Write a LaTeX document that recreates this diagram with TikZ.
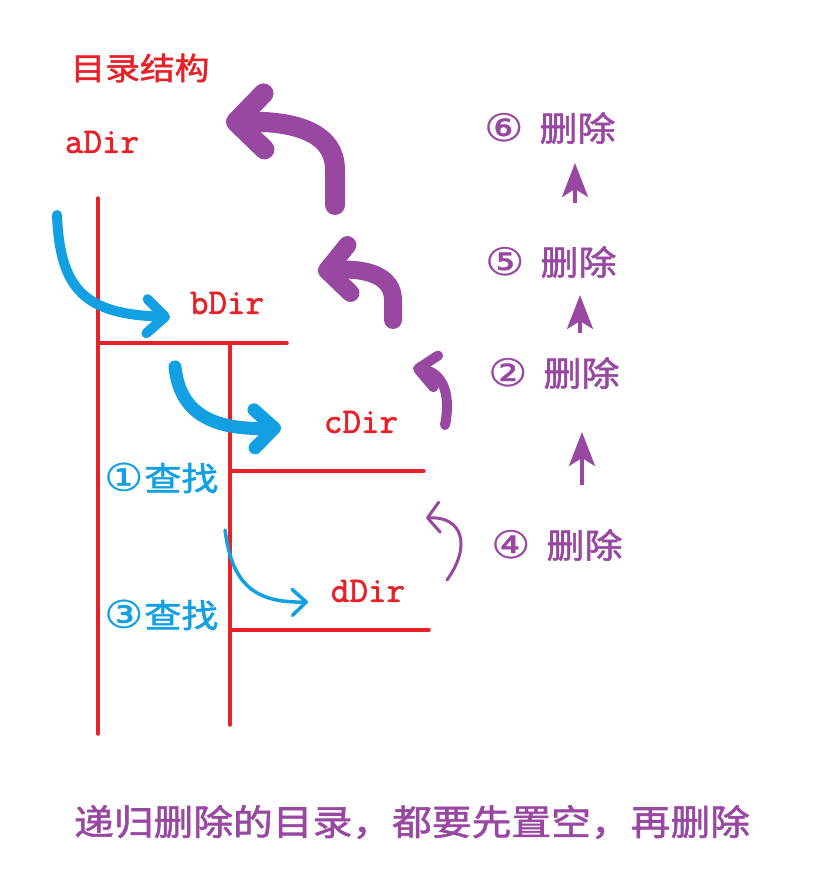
\documentclass[tikz,border=0pt]{standalone}
\usepackage{fontspec}
\usepackage{xcolor}
\usepackage{tikz}
\usetikzlibrary{arrows.meta, positioning, calc}
\newfontfamily\cjk{Noto Sans CJK SC}[FakeStretch=1.12, FakeBold=1.6]
\newfontfamily\circnum{DejaVu Sans}[FakeStretch=1.15, FakeBold=0.8]
\newfontfamily\dirfont{Latin Modern Mono}[FakeBold=1.8]
\newcommand{\numc}[1]{{\fontsize{38}{38}\selectfont\circnum #1}}
\definecolor{treered}{RGB}{232, 32, 40}
\definecolor{findblue}{RGB}{18, 160, 226}
\definecolor{delpurple}{RGB}{152, 72, 160}

\begin{document}
\begin{tikzpicture}[
    x=1pt, y=-1pt,
    dirlabel/.style={text=treered, font=\fontsize{36}{36}\selectfont\dirfont, inner sep=0pt},
    findlabel/.style={text=findblue, font=\fontsize{33}{33}\selectfont\cjk, inner sep=0pt, anchor=west},
    dellabel/.style={text=delpurple, font=\fontsize{34}{34}\selectfont\cjk, inner sep=0pt, anchor=west},
    tree/.style={draw=treered, line width=3.5pt, line cap=round},
    find/.style={draw=findblue, line cap=round, line width=#1},
    back/.style={draw=delpurple, line cap=round, line width=#1},
    upstep/.style={draw=delpurple, line width=4pt, -{Stealth[length=34pt, width=26pt, inset=8pt]}}
]
\useasboundingbox (0,0) rectangle (818,893);

% Directory tree
\node[text=treered, font=\fontsize{31}{31}\selectfont\cjk, inner sep=0pt] (title) at (140,68) {目录结构};
\node[dirlabel] (adir) at (102,142) {aDir};
\node[dirlabel] (bdir) at (227,303) {bDir};
\node[dirlabel] (cdir) at (361,422) {cDir};
\node[dirlabel] (ddir) at (368,591) {dDir};

\coordinate (aTop) at (98,198);
\coordinate (aBot) at (98,734);
\coordinate (bJoin) at (98,343);
\coordinate (bEnd) at (287,343);
\coordinate (bTop) at (230,343);
\coordinate (bBot) at (230,725);
\coordinate (cStart) at (232,471);
\coordinate (cEnd) at (424,471);
\coordinate (dStart) at (232,630);
\coordinate (dEnd) at (429,630);

\draw[tree] (aTop) -- (aBot);
\draw[tree] (bJoin) -- (bEnd);
\draw[tree] (bTop) -- (bBot);
\draw[tree] (cStart) -- (cEnd);
\draw[tree] (dStart) -- (dEnd);

% Searching down
\node[findlabel] (find1) at (104,478) {\numc{①}\hspace{1pt}查找};
\node[findlabel] (find3) at (104,615) {\numc{③}\hspace{1pt}查找};

\coordinate (f1s) at (57,215);
\coordinate (f1e) at (170,317);
\coordinate (f2s) at (175,367);
\coordinate (f2e) at (281,428);
\coordinate (f3s) at (225,530);
\coordinate (f3e) at (308,602);

\draw[find=10pt, -{Straight Barb[round, length=18pt, width=34pt]}] (f1s) .. controls (60,290) and (85,314) .. (f1e);
\draw[find=13pt, -{Straight Barb[round, length=20pt, width=38pt]}] (f2s) .. controls (180,415) and (215,430) .. (f2e);
\draw[find=3.5pt, -{Straight Barb[round, length=14pt, width=26pt]}] (f3s) .. controls (232,585) and (255,603) .. (f3e);

% Deleting back up
\coordinate (b6s) at (335,205);
\coordinate (b6e) at (226,122);
\coordinate (b5s) at (393,320);
\coordinate (b5e) at (318,271);
\coordinate (b2s) at (445,425);
\coordinate (b2e) at (413,368);
\coordinate (b4s) at (447,580);
\coordinate (b4e) at (426,518);

\draw[back=20pt, -{Straight Barb[round, length=28pt, width=56pt]}] (b6s) -- (335,170) .. controls (335,130) and (290,121) .. (b6e);
\draw[back=18pt, -{Straight Barb[round, length=22pt, width=48pt]}] (b5s) -- (393,300) .. controls (393,275) and (365,268) .. (b5e);
\draw[back=10pt, -{Straight Barb[round, length=18pt, width=32pt]}] (b2s) .. controls (452,390) and (440,372) .. (b2e);
\draw[back=3pt, -{Straight Barb[round, length=12pt, width=30pt]}] (b4s) .. controls (472,545) and (462,516) .. (b4e);

% Deletion order
\node[dellabel] (del6) at (484,128) {\numc{⑥}\hspace{16pt}删除};
\node[dellabel] (del5) at (485,262) {\numc{⑤}\hspace{16pt}删除};
\node[dellabel] (del2) at (488,373) {\numc{②}\hspace{16pt}删除};
\node[dellabel] (del4) at (491,545) {\numc{④}\hspace{16pt}删除};

\coordinate (u1s) at (575,203);
\coordinate (u1e) at (575,163);
\coordinate (u2s) at (580,333);
\coordinate (u2e) at (580,295);
\coordinate (u3s) at (582,485);
\coordinate (u3e) at (582,432);

\draw[upstep] (u1s) -- (u1e);
\draw[upstep] (u2s) -- (u2e);
\draw[upstep] (u3s) -- (u3e);

\node[text=delpurple, font=\fontsize{35.5}{36}\selectfont\cjk, inner sep=0pt] (note) at (412,822) {递归删除的目录，都要先置空，再删除};

\end{tikzpicture}
\end{document}
